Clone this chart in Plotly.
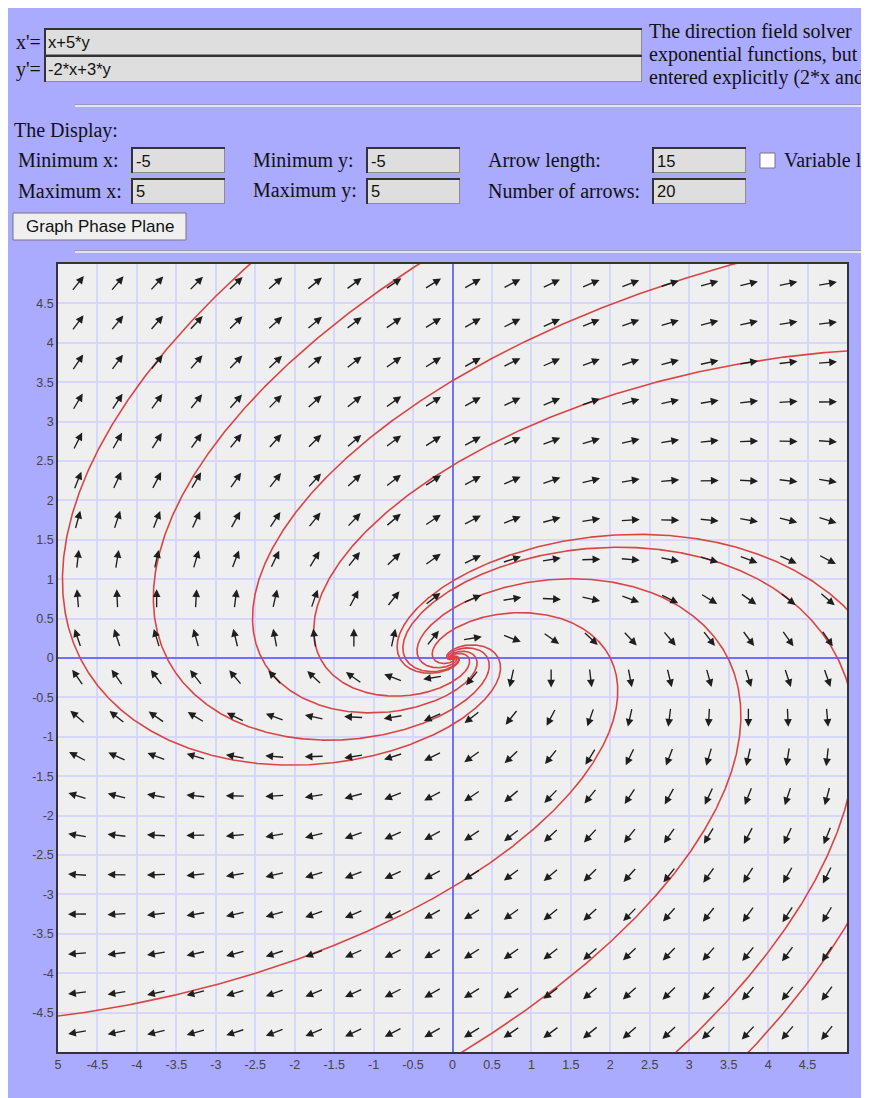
import numpy as np
import plotly.graph_objects as go

# ---------------- data ----------------
X_EQ = "x+5*y"
Y_EQ = "-2*x+3*y"
COEF = [[1.0, 5.0], [-2.0, 3.0]]          # x' = x + 5y ; y' = -2x + 3y
X_MIN, X_MAX, Y_MIN, Y_MAX = -5, 5, -5, 5
N_ARROWS = 20
ARROW_LEN = 15
# seed points of the drawn solution curves
SEED_X = [-4.72, -3.62, -2.42, -1.68, 2.0, 3.49, 4.88, 5.0]
SEED_Y = [0.0, 0.0, 0.0, 0.0, 0.0, 0.0, 0.0, 0.62]
X_TICKVALS = [-5, -4.5, -4, -3.5, -3, -2.5, -2, -1.5, -1, -0.5, 0, 0.5, 1, 1.5, 2, 2.5, 3, 3.5, 4, 4.5]
X_TICKTEXT = ["5", "-4.5", "-4", "-3.5", "-3", "-2.5", "-2", "-1.5", "-1", "-0.5", "0", "0.5", "1", "1.5", "2", "2.5", "3", "3.5", "4", "4.5"]
Y_TICKVALS = [-4.5, -4, -3.5, -3, -2.5, -2, -1.5, -1, -0.5, 0, 0.5, 1, 1.5, 2, 2.5, 3, 3.5, 4, 4.5]
Y_TICKTEXT = ["-4.5", "-4", "-3.5", "-3", "-2.5", "-2", "-1.5", "-1", "-0.5", "0", "0.5", "1", "1.5", "2", "2.5", "3", "3.5", "4", "4.5"]
INFO_LINES = ["The direction field solver", "exponential functions, but", "entered explicitly (2*x and"]
FIELD_LABELS = ["Minimum x:", "Minimum y:", "Arrow length:", "Maximum x:", "Maximum y:", "Number of arrows:"]
FIELD_VALUES = ["-5", "-5", "15", "5", "5", "20"]

# ---------------- geometry helpers (page pixels -> paper) ----------------
PL, PR, PT, PB = 58, 847, 264, 1052
def PX(X):
    return (X - PL) / (PR - PL)
def PY(Y):
    return (PB - Y) / (PB - PT)

LAV = "#aaaaff"
SERIF = "Liberation Serif, Times New Roman, serif"
SANS = "Liberation Sans, Arial, sans-serif"
SERIF_SIZE = 20
SANS_SIZE = 16.5

fig = go.Figure()

# ---------------- solution curves ----------------
A = np.array(COEF)
lam = np.trace(A) / 2.0
B = A - lam * np.eye(2)
om = np.sqrt(np.linalg.det(A) - lam ** 2)
t = np.linspace(-3.2, 1.6, 6000)
for sx, sy in zip(SEED_X, SEED_Y):
    X0 = np.array([sx, sy])
    BX0 = B @ X0
    e = np.exp(lam * t)
    xs = e * (np.cos(om * t) * X0[0] + np.sin(om * t) / om * BX0[0])
    ys = e * (np.cos(om * t) * X0[1] + np.sin(om * t) / om * BX0[1])
    m = (np.abs(xs) < 12) & (np.abs(ys) < 12)
    fig.add_trace(go.Scatter(x=xs[m], y=ys[m], mode="lines",
                             line=dict(color="#d94545", width=1.6),
                             hoverinfo="skip", showlegend=False))

# ---------------- direction field ----------------
step = (X_MAX - X_MIN) / N_ARROWS
cx = X_MIN + step / 2 + step * np.arange(N_ARROWS)
cy = Y_MIN + step / 2 + step * np.arange(N_ARROWS)
unit_per_px = (X_MAX - X_MIN) / (PR - PL)
half = 0.5 * (ARROW_LEN + 4.5) * unit_per_px
annotations = []
for xv in cx:
    for yv in cy:
        dx = COEF[0][0] * xv + COEF[0][1] * yv
        dy = COEF[1][0] * xv + COEF[1][1] * yv
        n = np.hypot(dx, dy)
        ux, uy = dx / n, dy / n
        annotations.append(dict(
            x=xv + half * ux, y=yv + half * uy,
            ax=xv - half * ux, ay=yv - half * uy,
            xref="x", yref="y", axref="x", ayref="y",
            text="", showarrow=True, arrowhead=2, arrowsize=1.15,
            arrowwidth=1.35, arrowcolor="#1e1e1e", standoff=0, startstandoff=0))

shapes = []
# white page strip at the right edge (outside the lavender panel)
shapes.append(dict(type="rect", xref="paper", yref="paper",
                   x0=PX(865), x1=PX(875), y0=PY(1110), y1=PY(0),
                   fillcolor="#ffffff", line=dict(width=0), layer="below"))

def rect(x0, y0, x1, y1, fill, line=None, lw=0):
    shapes.append(dict(type="rect", xref="paper", yref="paper",
                       x0=PX(x0), x1=PX(x1), y0=PY(y1), y1=PY(y0),
                       fillcolor=fill, line=dict(width=lw, color=line or fill), layer="above"))
def hline(x0, x1, y, color, w):
    shapes.append(dict(type="line", xref="paper", yref="paper",
                       x0=PX(x0), x1=PX(x1), y0=PY(y), y1=PY(y),
                       line=dict(color=color, width=w), layer="above"))
def vline(x, y0, y1, color, w):
    shapes.append(dict(type="line", xref="paper", yref="paper",
                       x0=PX(x), x1=PX(x), y0=PY(y0), y1=PY(y1),
                       line=dict(color=color, width=w), layer="above"))
def inbox(x0, y0, x1, y1):
    rect(x0, y0, x1, y1, "#dedede")
    hline(x0, x1, y1 - 0.5, "#8c8c8c", 1)
    vline(x1 - 0.5, y0, y1, "#8c8c8c", 1)
    hline(x0, x1, y0 + 1, "#333333", 2)
    vline(x0 + 1, y0, y1, "#333333", 2)
def txt(x, y, s, family, size, anchor="left", color="#111111"):
    annotations.append(dict(x=PX(x), y=PY(y), xref="paper", yref="paper",
                            text=s, showarrow=False, xanchor=anchor, yanchor="middle",
                            font=dict(family=family, size=size, color=color)))

# equation inputs
inbox(44, 28, 642, 55)
inbox(44, 55, 642, 82)
txt(14, 42, "x'=", SERIF, SERIF_SIZE)
txt(14, 69, "y'=", SERIF, SERIF_SIZE)
txt(46, 42, X_EQ, SANS, SANS_SIZE)
txt(46, 69, Y_EQ, SANS, SANS_SIZE)
for i, s in enumerate(INFO_LINES):
    txt(647, 31 + 23 * i, s, SERIF, SERIF_SIZE)

# horizontal rules
for yy in (105, 251):
    hline(75, 865, yy - 0.5, "#9a9ab8", 1)
    hline(75, 865, yy + 1, "#f4f4ff", 1.5)

txt(12, 130, "The Display:", SERIF, SERIF_SIZE)
label_x = [16, 251, 486]
box_x = [(131, 225), (366, 460), (652, 746)]
rows_y = [160, 191]
for k, (lab, val) in enumerate(zip(FIELD_LABELS, FIELD_VALUES)):
    r, c = divmod(k, 3)
    yc = rows_y[r]
    txt(label_x[c], yc, lab, SERIF, SERIF_SIZE)
    inbox(box_x[c][0], yc - 13, box_x[c][1], yc + 13)
    txt(box_x[c][0] + 3, yc + 0.5, val, SANS, SANS_SIZE)

# checkbox
shapes.append(dict(type="rect", xref="paper", yref="paper",
                   x0=PX(760), x1=PX(775), y0=PY(168), y1=PY(153),
                   fillcolor="#ffffff", line=dict(color="#777777", width=1), layer="above"))
txt(782, 160, "Variable length", SERIF, SERIF_SIZE)

# button
shapes.append(dict(type="rect", xref="paper", yref="paper",
                   x0=PX(13), x1=PX(186), y0=PY(240), y1=PY(213),
                   fillcolor="#efefef", line=dict(color="#767676", width=1), layer="above"))
txt(99.5, 227, "Graph Phase Plane", SANS, 17)
annotations[-1]["xanchor"] = "center"

axis_common = dict(range=[X_MIN, X_MAX], showgrid=True, gridcolor="#d6d6ff", gridwidth=2,
                   zeroline=True, zerolinecolor="#7070ff", zerolinewidth=2,
                   showline=True, mirror=True, linecolor="#333333", linewidth=1.5,
                   ticks="", tickfont=dict(family=SANS, size=12.5, color="#444444"),
                   fixedrange=True)

fig.update_layout(
    width=861, height=1090,
    margin=dict(l=50, r=22, t=256, b=46),
    paper_bgcolor=LAV, plot_bgcolor="#efefef",
    showlegend=False,
    xaxis=dict(**axis_common, tickmode="array", tickvals=X_TICKVALS, ticktext=X_TICKTEXT),
    yaxis=dict(**axis_common, tickmode="array", tickvals=Y_TICKVALS, ticktext=Y_TICKTEXT),
    annotations=annotations,
    shapes=shapes,
)

fig.write_html("out.html")
